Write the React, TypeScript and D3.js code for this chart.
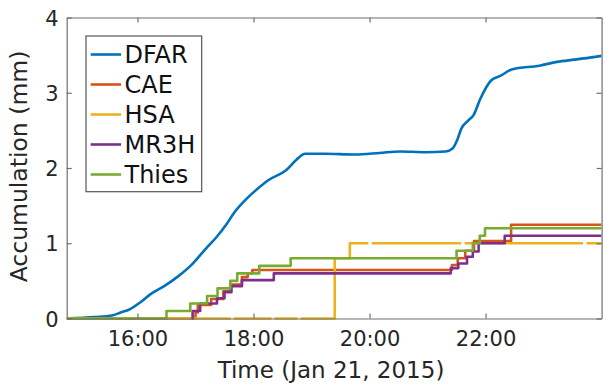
import React, { useEffect, useRef } from "react";
import * as d3 from "d3";

// time in decimal hours (Jan 21, 2015), accumulation in mm
const dfarTime = [14.78, 15.26, 15.56, 15.71, 15.86, 16.04, 16.22, 16.46, 16.7, 16.94, 17.18, 17.36, 17.54, 17.66, 17.84, 18.08, 18.26, 18.56, 18.74, 18.89, 19.22, 19.75, 20.17, 20.53, 20.95, 21.31, 21.43, 21.52, 21.58, 21.7, 21.79, 21.91, 22.09, 22.27, 22.45, 22.93, 23.23, 23.53, 23.83, 24.0];
const dfarValue = [0, 0.02, 0.04, 0.08, 0.12, 0.21, 0.32, 0.43, 0.56, 0.72, 0.93, 1.08, 1.26, 1.4, 1.56, 1.73, 1.84, 1.97, 2.11, 2.19, 2.19, 2.18, 2.2, 2.22, 2.21, 2.22, 2.26, 2.39, 2.52, 2.63, 2.7, 2.92, 3.16, 3.23, 3.31, 3.36, 3.41, 3.44, 3.47, 3.49];

const caeTime = [14.78, 17.0, 17.04, 17.27, 17.48, 17.6, 17.8, 17.9, 17.98, 21.42, 21.52, 21.65, 21.8, 22.44, 24.0];
const caeValue = [0, 0.08, 0.18, 0.26, 0.36, 0.45, 0.55, 0.6, 0.645, 0.71, 0.8, 0.9, 1.03, 1.245, 1.245];

// null = missing HSA record (gap in the line)
const hsaTime = [14.78, 17.61, 17.61, 17.66, 18.31, 18.31, 18.36, 18.76, 18.76, 18.81, 19.4, 19.66, 19.98, 19.98, 20.04, 21.58, 21.58, 21.64, 23.68, 23.68, 23.74, 24.0];
const hsaValue = [0, 0, null, 0, 0, null, 0, 0, null, 0, 0.8, 1.0, 1.0, null, 1.0, 1.0, null, 1.0, 1.0, null, 1.0, 1.0];

const mr3hTime = [16.93, 16.95, 17.08, 17.37, 17.5, 17.62, 17.8, 18.35, 21.4, 21.53, 21.68, 21.78, 21.88, 22.33, 24.0];
const mr3hValue = [0, 0.1, 0.2, 0.27, 0.35, 0.43, 0.51, 0.6, 0.67, 0.73, 0.82, 0.89, 1.0, 1.1, 1.1];

const thiesTime = [14.78, 16.5, 16.91, 17.2, 17.38, 17.6, 17.72, 18.1, 18.64, 21.5, 21.78, 21.9, 21.99, 24.0];
const thiesValue = [0, 0.1, 0.2, 0.3, 0.4, 0.5, 0.6, 0.7, 0.8, 0.9, 1.0, 1.1, 1.2, 1.2];

const xTicks = [16, 18, 20, 22];
const yTicks = [0, 1, 2, 3, 4];

const series = [
  { name: "DFAR", time: dfarTime, value: dfarValue, color: "#0072BD", smooth: true },
  { name: "CAE", time: caeTime, value: caeValue, color: "#D95319", smooth: false },
  { name: "HSA", time: hsaTime, value: hsaValue, color: "#EDB120", smooth: false },
  { name: "MR3H", time: mr3hTime, value: mr3hValue, color: "#7E2F8E", smooth: false },
  { name: "Thies", time: thiesTime, value: thiesValue, color: "#77AC30", smooth: false },
];

const W = 603;
const H = 385;
const plot = { left: 66.7, right: 601.6, top: 17.5, bottom: 318.5 };
const FONT = "'DejaVu Sans', sans-serif";

const App = () => {
  const svgRef = useRef<SVGSVGElement>(null);

  useEffect(() => {
    const svg = d3.select(svgRef.current);
    svg.selectAll("*").remove();

    const x = d3.scaleLinear().domain([14.78, 24]).range([plot.left, plot.right]);
    const y = d3.scaleLinear().domain([0, 4]).range([plot.bottom, plot.top]);

    svg.append("rect").attr("width", W).attr("height", H).attr("fill", "#fff");

    svg
      .append("clipPath")
      .attr("id", "plotclip")
      .append("rect")
      .attr("x", plot.left)
      .attr("y", plot.top - 2)
      .attr("width", plot.right - plot.left)
      .attr("height", plot.bottom - plot.top + 4);

    const lines = svg.append("g").attr("clip-path", "url(#plotclip)");
    series.forEach((s) => {
      const pts = s.time.map((t, i) => [t, s.value[i]] as [number, number | null]);
      const gen = d3
        .line<[number, number | null]>()
        .defined((d) => d[1] !== null)
        .x((d) => x(d[0]))
        .y((d) => y(d[1] as number))
        .curve(s.smooth ? d3.curveMonotoneX : d3.curveStepAfter);
      lines
        .append("path")
        .attr("d", gen(pts))
        .attr("fill", "none")
        .attr("stroke", s.color)
        .attr("stroke-width", 2.6)
        .attr("stroke-linejoin", "round");
    });

    // axes box, ticks pointing inward on all four sides
    const axisColor = "#6f6f6f";
    const bottom = svg.append("g").attr("transform", `translate(0,${plot.bottom})`)
      .call(d3.axisBottom(x).tickValues(xTicks).tickSizeInner(-5).tickSizeOuter(0).tickFormat((d) => `${d}:00`));
    const top = svg.append("g").attr("transform", `translate(0,${plot.top})`)
      .call(d3.axisTop(x).tickValues(xTicks).tickSizeInner(-5).tickSizeOuter(0).tickFormat(() => ""));
    const left = svg.append("g").attr("transform", `translate(${plot.left},0)`)
      .call(d3.axisLeft(y).tickValues(yTicks).tickSizeInner(-5).tickSizeOuter(0).tickFormat(d3.format("d")));
    const right = svg.append("g").attr("transform", `translate(${plot.right},0)`)
      .call(d3.axisRight(y).tickValues(yTicks).tickSizeInner(-5).tickSizeOuter(0).tickFormat(() => ""));

    [bottom, top, left, right].forEach((g) => {
      g.select(".domain").attr("stroke", axisColor).attr("stroke-width", 1.2);
      g.selectAll(".tick line").attr("stroke", axisColor).attr("stroke-width", 1.2);
      g.selectAll(".tick text").attr("fill", "#262626").attr("font-family", FONT).attr("font-size", 21);
    });
    bottom.selectAll(".tick text").attr("y", 13).attr("dy", "0.71em");
    left.selectAll(".tick text").attr("x", -8).attr("dy", "0.36em");

    svg
      .append("text")
      .attr("x", 331)
      .attr("y", 378)
      .attr("text-anchor", "middle")
      .attr("font-family", FONT)
      .attr("font-size", 23)
      .attr("fill", "#262626")
      .text("Time (Jan 21, 2015)");

    svg
      .append("text")
      .attr("transform", `translate(27,166.5) rotate(-90)`)
      .attr("text-anchor", "middle")
      .attr("font-family", FONT)
      .attr("font-size", 23.5)
      .attr("fill", "#262626")
      .text("Accumulation (mm)");

    // legend
    const lg = svg.append("g");
    lg.append("rect")
      .attr("x", 86)
      .attr("y", 36)
      .attr("width", 115.7)
      .attr("height", 155.7)
      .attr("fill", "#fff")
      .attr("stroke", "#555")
      .attr("stroke-width", 1.2);
    series.forEach((s, i) => {
      const cy = 54.5 + i * 30;
      lg.append("line")
        .attr("x1", 90.7)
        .attr("x2", 121)
        .attr("y1", cy)
        .attr("y2", cy)
        .attr("stroke", s.color)
        .attr("stroke-width", 2.6);
      lg.append("text")
        .attr("x", 124.5)
        .attr("y", cy)
        .attr("dy", "0.36em")
        .attr("font-family", FONT)
        .attr("font-size", 24)
        .attr("fill", "#111")
        .text(s.name);
    });
  }, []);

  return (
    <svg
      ref={svgRef}
      width={W}
      height={H}
      style={{ position: "absolute", left: 0, top: 0, display: "block" }}
    />
  );
};

export default App;
